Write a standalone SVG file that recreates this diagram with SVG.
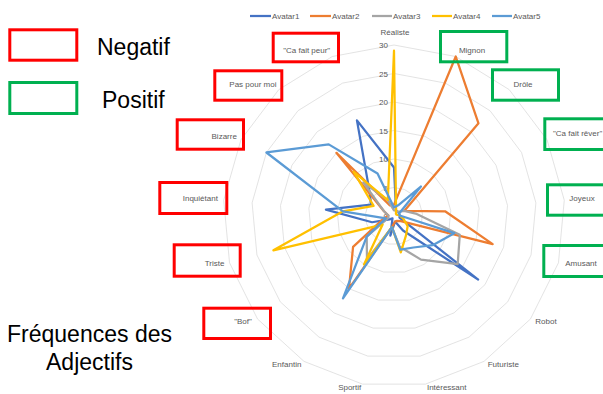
<svg xmlns="http://www.w3.org/2000/svg" width="603" height="394" viewBox="0 0 603 394">
<style>
.ring{fill:none;stroke:#D9D9D9;stroke-width:0.75;vector-effect:non-scaling-stroke}
.ser{fill:none;stroke-width:2.25;stroke-linejoin:round}
.lab{font-family:"Liberation Sans",Arial,sans-serif;font-size:8px;fill:#595959}
.big{font-family:"Liberation Sans",Arial,sans-serif;font-size:23px;fill:#000}
.neg{fill:none;stroke:#FF0000;stroke-width:3}
.pos{fill:none;stroke:#00B050;stroke-width:3}
.leg{stroke-width:2.25}
</style>
<rect width="603" height="394" fill="#FFFFFF"/>
<g id="legend-top">
<line class="leg" x1="250" y1="16" x2="271" y2="16" stroke="#4472C4"/>
<text class="lab" x="272" y="19">Avatar1</text>
<line class="leg" x1="310" y1="16" x2="331" y2="16" stroke="#ED7D31"/>
<text class="lab" x="332" y="19">Avatar2</text>
<line class="leg" x1="372" y1="16" x2="392" y2="16" stroke="#A5A5A5"/>
<text class="lab" x="393" y="19">Avatar3</text>
<line class="leg" x1="432" y1="16" x2="452" y2="16" stroke="#FFC000"/>
<text class="lab" x="453" y="19">Avatar4</text>
<line class="leg" x1="492" y1="16" x2="512" y2="16" stroke="#5B9BD5"/>
<text class="lab" x="513" y="19">Avatar5</text>
</g>
<g id="grid" transform="translate(394 216)">
<polygon class="ring" transform="scale(1)" points="0,-28.5 10.29,-26.58 19.2,-21.06 25.51,-12.7 28.38,-2.63 27.41,7.8 22.74,17.17 15,24.23 5.24,28.02 -5.24,28.02 -15,24.23 -22.74,17.17 -27.41,7.8 -28.38,-2.63 -25.51,-12.7 -19.2,-21.06 -10.29,-26.58"/>
<polygon class="ring" transform="scale(2)" points="0,-28.5 10.29,-26.58 19.2,-21.06 25.51,-12.7 28.38,-2.63 27.41,7.8 22.74,17.17 15,24.23 5.24,28.02 -5.24,28.02 -15,24.23 -22.74,17.17 -27.41,7.8 -28.38,-2.63 -25.51,-12.7 -19.2,-21.06 -10.29,-26.58"/>
<polygon class="ring" transform="scale(3)" points="0,-28.5 10.29,-26.58 19.2,-21.06 25.51,-12.7 28.38,-2.63 27.41,7.8 22.74,17.17 15,24.23 5.24,28.02 -5.24,28.02 -15,24.23 -22.74,17.17 -27.41,7.8 -28.38,-2.63 -25.51,-12.7 -19.2,-21.06 -10.29,-26.58"/>
<polygon class="ring" transform="scale(4)" points="0,-28.5 10.29,-26.58 19.2,-21.06 25.51,-12.7 28.38,-2.63 27.41,7.8 22.74,17.17 15,24.23 5.24,28.02 -5.24,28.02 -15,24.23 -22.74,17.17 -27.41,7.8 -28.38,-2.63 -25.51,-12.7 -19.2,-21.06 -10.29,-26.58"/>
<polygon class="ring" transform="scale(5)" points="0,-28.5 10.29,-26.58 19.2,-21.06 25.51,-12.7 28.38,-2.63 27.41,7.8 22.74,17.17 15,24.23 5.24,28.02 -5.24,28.02 -15,24.23 -22.74,17.17 -27.41,7.8 -28.38,-2.63 -25.51,-12.7 -19.2,-21.06 -10.29,-26.58"/>
<polygon class="ring" transform="scale(6)" points="0,-28.5 10.29,-26.58 19.2,-21.06 25.51,-12.7 28.38,-2.63 27.41,7.8 22.74,17.17 15,24.23 5.24,28.02 -5.24,28.02 -15,24.23 -22.74,17.17 -27.41,7.8 -28.38,-2.63 -25.51,-12.7 -19.2,-21.06 -10.29,-26.58"/>
</g>
<g id="value-axis" class="lab" text-anchor="end">
<text x="388" y="219">0</text>
<text x="388" y="190.5">5</text>
<text x="388" y="162">10</text>
<text x="388" y="133.5">15</text>
<text x="388" y="105">20</text>
<text x="388" y="76.5">25</text>
<text x="388" y="48">30</text>
</g>
<g id="series" transform="translate(394 216)">
<polygon id="avatar1" class="ser" stroke="#4472C4" points="0,-48.45 2.06,-5.32 3.84,-4.21 5.1,-2.54 5.68,-0.53 5.48,1.56 84.15,63.54 9,14.54 1.05,5.6 -3.66,19.61 -1.5,2.42 -4.55,3.43 -21.93,6.24 -68.11,-6.31 -22.96,-11.43 -24.96,-27.38 -37.06,-95.67"/>
<polygon id="avatar2" class="ser" stroke="#ED7D31" points="0,-11.4 61.77,-159.46 84.48,-92.67 10.21,-5.08 51.08,-4.73 98.68,28.08 6.82,5.15 3,4.85 1.05,5.6 -2.09,11.21 -45.01,72.69 -40.94,30.91 -10.96,3.12 -5.68,-0.53 -10.21,-5.08 -57.6,-63.18 -4.12,-10.63"/>
<polygon id="avatar3" class="ser" stroke="#A5A5A5" points="0,-5.7 2.06,-5.32 3.84,-4.21 10.21,-5.08 22.7,-2.1 65.79,18.72 63.68,48.09 27,43.62 5.76,30.82 -2.09,11.21 -27,43.62 -27.29,20.61 -5.48,1.56 -5.68,-0.53 -10.21,-5.08 -30.72,-33.7 -6.18,-15.95"/>
<polygon id="avatar4" class="ser" stroke="#FFC000" points="0,-165.3 2.06,-5.32 1.92,-2.11 2.55,-1.27 5.68,-0.53 9.32,2.65 13.65,10.3 12,19.38 6.81,36.42 -2.09,11.21 -30,48.46 -11.37,8.59 -120.61,34.32 -51.08,-4.73 -20.41,-10.16 -40.32,-44.23 -6.18,-15.95"/>
<polygon id="avatar5" class="ser" stroke="#5B9BD5" points="0,-8.55 4.12,-10.63 26.88,-29.49 5.1,-2.54 5.68,-0.53 60.3,17.16 38.66,29.2 19.5,31.5 6.28,33.62 -2.09,11.21 -51.01,82.38 -27.29,20.61 -8.22,2.34 -51.08,-4.73 -127.57,-63.51 -65.28,-71.61 -16.47,-42.52"/>
</g>
<g id="cat-realiste"><text class="lab" x="395" y="35" text-anchor="middle">Réaliste</text></g>
<g id="cat-mignon"><rect class="pos" x="440.5" y="31.5" width="66.3" height="30.3"/><text class="lab" x="472" y="53" text-anchor="middle">Mignon</text></g>
<g id="cat-drole"><rect class="pos" x="492.5" y="69.8" width="66" height="30.4"/><text class="lab" x="523" y="87" text-anchor="middle">Drôle</text></g>
<g id="cat-reve"><rect class="pos" x="544.8" y="118.8" width="66" height="30.7"/><text class="lab" x="553" y="136">"Ca fait rêver"</text></g>
<g id="cat-joyeux"><rect class="pos" x="547.5" y="184.8" width="66" height="30.4"/><text class="lab" x="582" y="201" text-anchor="middle">Joyeux</text></g>
<g id="cat-amusant"><rect class="pos" x="543.8" y="245.5" width="66" height="31"/><text class="lab" x="581" y="266" text-anchor="middle">Amusant</text></g>
<g id="cat-robot"><text class="lab" x="546" y="324" text-anchor="middle">Robot</text></g>
<g id="cat-futuriste"><text class="lab" x="503.3" y="367" text-anchor="middle">Futuriste</text></g>
<g id="cat-interessant"><text class="lab" x="446.7" y="390" text-anchor="middle">Intéressant</text></g>
<g id="cat-sportif"><text class="lab" x="349.7" y="390" text-anchor="middle">Sportif</text></g>
<g id="cat-enfantin"><text class="lab" x="286.7" y="367" text-anchor="middle">Enfantin</text></g>
<g id="cat-bof"><rect class="neg" x="203.8" y="308.2" width="66.7" height="30.3"/><text class="lab" x="243" y="323.5" text-anchor="middle">"Bof"</text></g>
<g id="cat-triste"><rect class="neg" x="174.2" y="244.8" width="66" height="31.4"/><text class="lab" x="214.5" y="266" text-anchor="middle">Triste</text></g>
<g id="cat-inquietant"><rect class="neg" x="159.8" y="182.5" width="67" height="31"/><text class="lab" x="200.3" y="201" text-anchor="middle">Inquiétant</text></g>
<g id="cat-bizarre"><rect class="neg" x="177.2" y="119.8" width="66.3" height="29.4"/><text class="lab" x="224.2" y="139" text-anchor="middle">Bizarre</text></g>
<g id="cat-paspourmoi"><rect class="neg" x="214.8" y="70.8" width="67" height="29.4"/><text class="lab" x="252.9" y="87" text-anchor="middle">Pas pour moi</text></g>
<g id="cat-peur"><rect class="neg" x="273.2" y="33.2" width="65.3" height="28.6"/><text class="lab" x="306.7" y="53" text-anchor="middle">"Ca fait peur"</text></g>
<g id="legend-negatif"><rect class="neg" x="9.8" y="29.8" width="67" height="30.4"/><text class="big" x="97" y="55">Negatif</text></g>
<g id="legend-positif"><rect class="pos" x="9.8" y="82.5" width="67" height="31"/><text class="big" x="102" y="108">Positif</text></g>
<g id="title"><text class="big" x="89.5" y="342" text-anchor="middle">Fréquences des</text><text class="big" x="89.5" y="370" text-anchor="middle">Adjectifs</text></g>
</svg>
